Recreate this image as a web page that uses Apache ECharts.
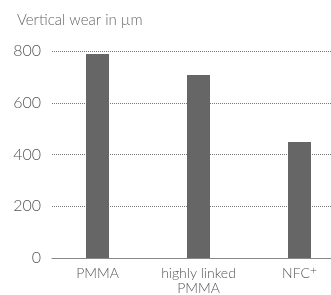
<!DOCTYPE html>
<html><head><meta charset="utf-8">
<script src="https://cdn.jsdelivr.net/npm/echarts@6/dist/echarts.min.js"></script>
<style>html,body{margin:0;padding:0;background:#fff}#c{width:331px;height:295px}</style>
</head><body><div id="c"></div>
<script>
const categories = ['PMMA', 'highly linked\nPMMA', 'NFC⁺'];
const values = [788, 707, 448];
const yTicks = [0, 200, 400, 600, 800];
const titleText = 'Vertical wear in µm';

const chart = echarts.init(document.getElementById('c'), null, {renderer: 'canvas'});
const font = 'Lato, "Open Sans", sans-serif';
chart.setOption({
  animation: false,
  title: {text: titleText, left: 12, top: 8,
    textStyle: {fontFamily: font, fontSize: 15, fontWeight: 300, color: '#666'}},
  grid: [
    {left: 52, right: 0, top: 51, bottom: 37, outerBoundsMode: 'none'},
    {left: 47, width: 303, top: 51, bottom: 37, outerBoundsMode: 'none'}
  ],
  xAxis: [
    {gridIndex: 0, type: 'category', data: categories,
      axisLine: {show: true, lineStyle: {color: '#888', width: 1}},
      axisTick: {show: false}, axisLabel: {show: false}},
    {gridIndex: 1, type: 'category', data: categories,
      axisLine: {show: false}, axisTick: {show: false},
      axisLabel: {interval: 0, fontFamily: font, fontSize: 14, fontWeight: 300, color: '#555',
        margin: 8, lineHeight: 15,
        formatter: v => v.replace('⁺', '{sup|+}'),
        rich: {sup: {fontFamily: font, fontSize: 12, fontWeight: 300, color: '#555', padding: [0, 0, 7, 0]}}}}
  ],
  yAxis: [
    {gridIndex: 0, type: 'value', min: yTicks[0], max: yTicks[yTicks.length - 1], interval: 200,
      axisLine: {show: false}, axisTick: {show: false},
      axisLabel: {fontFamily: font, fontSize: 16, fontWeight: 300, color: '#555', margin: 11},
      splitLine: {show: true, lineStyle: {type: [1, 1], color: '#777', width: 1}}},
    {gridIndex: 1, type: 'value', min: yTicks[0], max: yTicks[yTicks.length - 1], interval: 200,
      show: false, splitLine: {show: false}}
  ],
  series: [{
    type: 'bar', xAxisIndex: 1, yAxisIndex: 1, data: values,
    barWidth: 23, itemStyle: {color: '#666666'}
  }]
});
</script></body></html>
